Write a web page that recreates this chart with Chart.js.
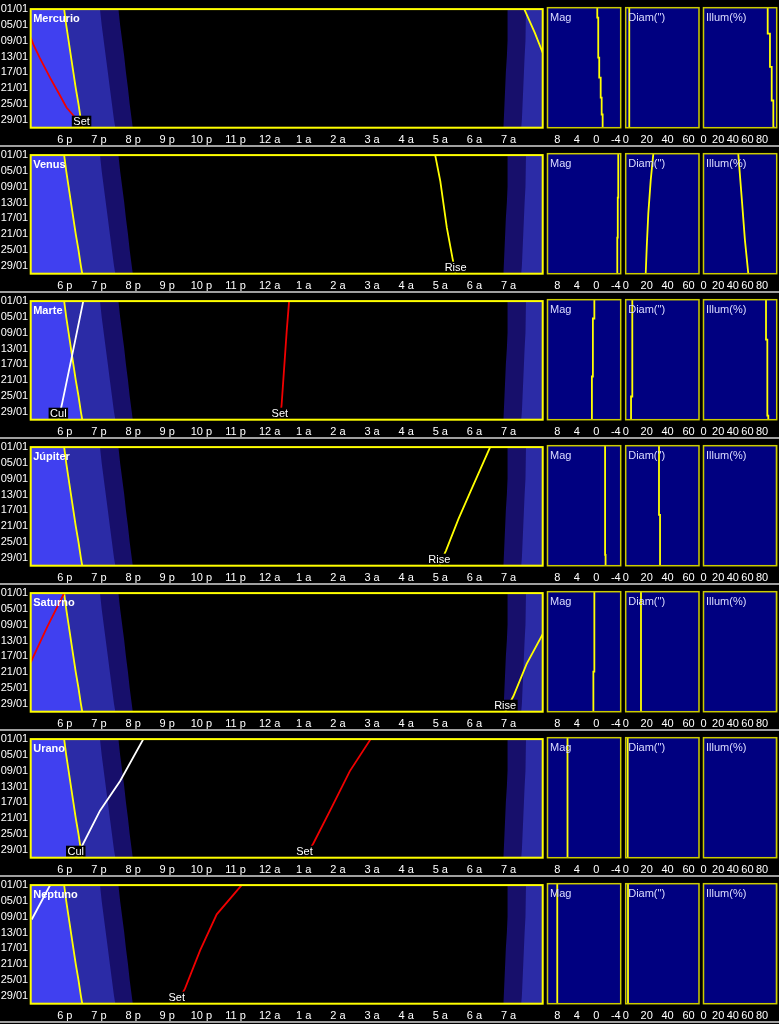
<!DOCTYPE html>
<html>
<head>
<meta charset="utf-8">
<script src="https://cdn.jsdelivr.net/npm/chart.js@4.4.1/dist/chart.umd.min.js"></script>
<style>
  body { margin: 0; background: #000; }
  #wrap { position: relative; width: 779px; height: 1024px; background: #000; overflow: hidden; }
  #wrap canvas { position: absolute; }
  .sep { position: absolute; left: 0; width: 779px; height: 2px; background: #a0a0a0; }
</style>
</head>
<body>
<div id="wrap"></div>
<script>
// ---- data (days of January, hours: 24 = midnight, 30 = 6 a) ----
const planets = ["Mercurio", "Venus", "Marte", "Júpiter", "Saturno", "Urano", "Neptuno"];
const dayTicks = [1, 5, 9, 13, 17, 21, 25, 29];
const hourTicks = [18, 19, 20, 21, 22, 23, 24, 25, 26, 27, 28, 29, 30, 31];
const magTicks = [8, 4, 0, -4];
const diamTicks = [0, 20, 40, 60];
const illumTicks = [0, 20, 40, 60, 80];

// twilight
const twDays = [1, 5, 9, 13, 17, 21, 25, 29, 31];
const sunSet = [17.98, 18.04, 18.11, 18.18, 18.25, 18.32, 18.40, 18.47, 18.51];
const civilEnd = [19.03, 19.08, 19.14, 19.20, 19.26, 19.32, 19.38, 19.44, 19.48];
const nautEnd = [19.57, 19.62, 19.68, 19.74, 19.79, 19.85, 19.90, 19.96, 19.99];
const nautStart = [30.97, 30.97, 30.97, 30.95, 30.92, 30.90, 30.88, 30.86, 30.85];
const civilStart = [31.51, 31.50, 31.49, 31.47, 31.45, 31.43, 31.41, 31.39, 31.37];

// rise / set / culmination, [day, hour]
const mercurioSet = [[8.2, 17.0], [10, 17.08], [13.4, 17.27], [18.4, 17.57], [22.1, 17.81], [25.9, 18.05], [27.9, 18.25], [31, 18.49]];
const mercurioRise = [[1, 31.46], [7, 31.77], [12, 32.0]];
const venusRise = [[1, 28.85], [7.6, 29.0], [19.3, 29.19], [27.2, 29.36], [31, 29.45]];
const marteCul = [[1, 18.54], [15.3, 18.2], [27.3, 17.91], [31, 17.81]];
const marteSet = [[1, 24.57], [8.6, 24.5], [18.6, 24.42], [27.3, 24.35], [31, 24.3]];
const jupiterRise = [[1, 30.46], [12.5, 29.87], [19.2, 29.53], [27.1, 29.17], [31, 28.97]];
const saturnoSet = [[1, 17.98], [9.8, 17.47], [18.5, 17.0]];
const saturnoRise = [[11.4, 32.0], [18.9, 31.53], [27.1, 31.14], [31, 30.9]];
const uranoCul = [[1, 20.3], [11.6, 19.62], [19.1, 19.03], [27.4, 18.54], [31, 18.32]];
const uranoSet = [[1, 26.96], [9.1, 26.35], [19.1, 25.77], [27.4, 25.28], [31, 25.02]];
const neptunoCul = [[1, 17.57], [9.7, 17.03]];
const neptunoSet = [[1, 23.18], [8.4, 22.45], [17.6, 21.96], [27.2, 21.52], [31, 21.28]];

// magnitude, diameter ("), illumination (%), [day, value]
const mercurioMag = [[1, -0.2], [3.5, -0.4], [13.5, -0.6], [18.5, -0.9], [23.5, -1.1], [27.7, -1.3], [31, -1.3]];
const mercurioDiam = [[1, 3.4], [31, 3.4]];
const mercurioIllum = [[1, 87.7], [7.5, 90.8], [15.8, 93.2], [24.2, 95.4], [31, 97.7]];
const venusMag = [[1, -4.5], [12, -4.4], [22, -4.3], [31, -4.2]];
const venusDiam = [[1, 26.4], [7.6, 23.9], [15.9, 21.6], [24.3, 20.1], [31, 19.1]];
const venusIllum = [[1, 47.5], [11.8, 52.1], [22.6, 56.6], [31, 61.2]];
const marteMag = [[1, 0.4], [5.7, 0.7], [20.2, 0.9], [31, 0.9]];
const marteDiam = [[1, 6.3], [25.2, 5.1], [31, 5.1]];
const marteIllum = [[1, 85.4], [11, 87.2], [30, 88.5], [31, 88.5]];
const jupiterMag = [[1, -1.8], [28.3, -1.9], [31, -1.9]];
const jupiterDiam = [[1, 31.8], [18.3, 32.8], [31, 32.8]];
const jupiterIllum = [[1, 100], [31, 100]];
const saturnoMag = [[1, 0.4], [21, 0.6], [31, 0.6]];
const saturnoDiam = [[1, 14.6], [31, 14.6]];
const saturnoIllum = [[1, 100], [31, 100]];
const uranoMag = [[1, 5.9], [31, 5.9]];
const uranoDiam = [[1, 1.9], [31, 1.9]];
const uranoIllum = [[1, 100], [31, 100]];
const neptunoMag = [[1, 8.0], [31, 8.0]];
const neptunoDiam = [[1, 2.2], [31, 2.2]];
const neptunoIllum = [[1, 100], [31, 100]];

const RED = "#f00000", YEL = "#ffff00", WHT = "#ffffff";
const rows = [
  { events: [[mercurioSet, RED, "Set"], [mercurioRise, YEL, "Rise"]], mag: mercurioMag, diam: mercurioDiam, illum: mercurioIllum },
  { events: [[venusRise, YEL, "Rise"]], mag: venusMag, diam: venusDiam, illum: venusIllum, smooth: true },
  { events: [[marteCul, WHT, "Cul"], [marteSet, RED, "Set"]], mag: marteMag, diam: marteDiam, illum: marteIllum },
  { events: [[jupiterRise, YEL, "Rise"]], mag: jupiterMag, diam: jupiterDiam, illum: jupiterIllum },
  { events: [[saturnoSet, RED, "Set"], [saturnoRise, YEL, "Rise"]], mag: saturnoMag, diam: saturnoDiam, illum: saturnoIllum },
  { events: [[uranoCul, WHT, "Cul"], [uranoSet, RED, "Set"]], mag: uranoMag, diam: uranoDiam, illum: uranoIllum },
  { events: [[neptunoCul, WHT, "Cul"], [neptunoSet, RED, "Set"]], mag: neptunoMag, diam: neptunoDiam, illum: neptunoIllum },
];

// ---- layout ----
const FONT = "'Liberation Sans', Arial, sans-serif";
const rowPitch = 146;
const areaTop = 7.7, areaH = 120;
const wrap = document.getElementById("wrap");

function hourLabel(v) {
  if (v === 24) return "12 a";
  return v < 24 ? (v - 12) + " p" : (v - 24) + " a";
}

function pts(arr) {
  return arr.map((p) => ({ x: p[1], y: p[0] }));
}

function twLine(hours) {
  return twDays.map((d, i) => ({ x: hours[i], y: d }));
}

function addCanvas(left, top, w, h) {
  const c = document.createElement("canvas");
  c.width = w;
  c.height = h;
  c.style.left = left + "px";
  c.style.top = top + "px";
  c.style.width = w + "px";
  c.style.height = h + "px";
  wrap.appendChild(c);
  return c;
}

// background, titles, event labels and frame
const frame = {
  id: "frame",
  beforeDatasetsDraw(chart, args, opts) {
    const a = chart.chartArea, ctx = chart.ctx;
    ctx.save();
    ctx.fillStyle = opts.bg;
    ctx.fillRect(a.left, a.top, a.right - a.left, a.bottom - a.top);
    ctx.restore();
  },
  afterDatasetsDraw(chart, args, opts) {
    const a = chart.chartArea, ctx = chart.ctx;
    ctx.save();
    ctx.font = "11px " + FONT;
    ctx.textAlign = "center";
    ctx.textBaseline = "alphabetic";
    chart.data.datasets.forEach((ds, i) => {
      if (!ds.tag) return;
      const last = ds.data[ds.data.length - 1];
      if (last.y !== 31) return;
      const el = chart.getDatasetMeta(i).data[ds.data.length - 1];
      const w = ctx.measureText(ds.tag).width + 3;
      ctx.fillStyle = "#000";
      ctx.fillRect(el.x - w / 2, a.bottom - 12, w, 11);
      ctx.fillStyle = "#fff";
      ctx.fillText(ds.tag, el.x, a.bottom - 3);
    });
    ctx.textAlign = "left";
    ctx.font = (opts.bold ? "bold " : "") + "11px " + FONT;
    ctx.fillStyle = opts.bold ? "#ffffff" : "#dcdcff";
    ctx.fillText(opts.title, a.left + 2.5, a.top + 13.3);
    ctx.restore();
  },
  afterDraw(chart, args, opts) {
    const a = chart.chartArea, ctx = chart.ctx;
    ctx.save();
    ctx.strokeStyle = opts.border;
    ctx.lineWidth = opts.borderWidth;
    ctx.strokeRect(a.left, a.top, a.right - a.left, a.bottom - a.top);
    ctx.restore();
  },
};

function baseOptions(padding, xScale, showY, frameOpts) {
  return {
    indexAxis: "y",
    animation: false,
    responsive: false,
    events: [],
    layout: { padding },
    elements: { point: { radius: 0 }, line: { tension: 0 } },
    plugins: { legend: { display: false }, tooltip: { enabled: false }, frame: frameOpts },
    scales: {
      x: xScale,
      y: {
        type: "linear",
        min: 1,
        max: 31,
        reverse: true,
        display: showY,
        grid: { display: false, drawTicks: false },
        border: { display: false },
        afterBuildTicks: (s) => { s.ticks = dayTicks.map((v) => ({ value: v })); },
        afterFit: (s) => { s.width = padding.yWidth || 0; },
        ticks: {
          color: "#ffffff",
          font: { family: FONT, size: 11 },
          padding: 2.5,
          autoSkip: false,
          callback: (v) => String(v).padStart(2, "0") + "/01",
        },
      },
    },
  };
}

function xAxis(min, max, reverse, ticks, label, canvasH) {
  return {
    type: "linear",
    min,
    max,
    reverse,
    grid: { display: false, drawTicks: false },
    border: { display: false },
    afterBuildTicks: (s) => { s.ticks = ticks.map((v) => ({ value: v })); },
    afterFit: (s) => { s.height = canvasH - areaTop - areaH; },
    ticks: {
      color: "#ffffff",
      font: { family: FONT, size: 11 },
      padding: 6,
      maxRotation: 0,
      autoSkip: false,
      callback: label,
    },
  };
}

function mainChart(r) {
  const row = rows[r];
  const H = rowPitch, W = 548;
  const c = addCanvas(0, rowPitch * r, W, H);
  const datasets = [];
  row.events.forEach(([arr, color, tag], i) => {
    datasets.push({ data: pts(arr), borderColor: color, borderWidth: 1.8, fill: false, tag, order: i });
  });
  datasets.push({ data: twLine(sunSet), borderColor: YEL, borderWidth: 1.8, backgroundColor: "#4040f0", fill: { value: 17 }, order: 10 });
  datasets.push({ data: twLine(civilEnd), borderWidth: 0, borderColor: "rgba(0,0,0,0)", backgroundColor: "#2b2ba6", fill: { value: 17 }, order: 11 });
  datasets.push({ data: twLine(nautEnd), borderWidth: 0, borderColor: "rgba(0,0,0,0)", backgroundColor: "#170f6b", fill: { value: 17 }, order: 12 });
  datasets.push({ data: twLine(civilStart), borderWidth: 0, borderColor: "rgba(0,0,0,0)", backgroundColor: "#2b2ba6", fill: { value: 32 }, order: 11 });
  datasets.push({ data: twLine(nautStart), borderWidth: 0, borderColor: "rgba(0,0,0,0)", backgroundColor: "#170f6b", fill: { value: 32 }, order: 12 });

  const padding = { left: 0, top: areaTop, right: W - 542.7, bottom: 0, yWidth: 30.7 };
  const opts = baseOptions(
    padding,
    xAxis(17, 32, false, hourTicks, (v) => hourLabel(v), H),
    true,
    { bg: "#000000", title: planets[r], bold: true, border: YEL, borderWidth: 2 }
  );
  new Chart(c, { type: "line", data: { datasets }, options: opts, plugins: [frame] });
}

function smallChart(r, x0, x1, series, min, max, reverse, ticks, title, stepped) {
  const left = Math.floor(x0) - 10;
  const W = Math.ceil(x1) + 10 - left;
  const H = rowPitch;
  const c = addCanvas(left, rowPitch * r, W, H);
  const padding = { left: x0 - left, top: areaTop, right: left + W - x1, bottom: 0 };
  const opts = baseOptions(
    padding,
    xAxis(min, max, reverse, ticks, (v) => String(v), H),
    false,
    { bg: "#000080", title, bold: false, border: "#cccc00", borderWidth: 1.5 }
  );
  const datasets = [{ data: pts(series), borderColor: YEL, borderWidth: 1.8, fill: false, stepped: stepped ? "after" : false }];
  new Chart(c, { type: "line", data: { datasets }, options: opts, plugins: [frame] });
}

rows.forEach((row, r) => {
  mainChart(r);
  smallChart(r, 547.5, 620.7, row.mag, -5, 10, true, magTicks, "Mag", true);
  smallChart(r, 625.7, 699, row.diam, 0, 70, false, diamTicks, 'Diam(")', !row.smooth);
  smallChart(r, 703.5, 776.7, row.illum, 0, 100, false, illumTicks, "Illum(%)", !row.smooth);
  const sep = document.createElement("div");
  sep.className = "sep";
  sep.style.top = (145 + rowPitch * r) + "px";
  wrap.appendChild(sep);
});
</script>
</body>
</html>
